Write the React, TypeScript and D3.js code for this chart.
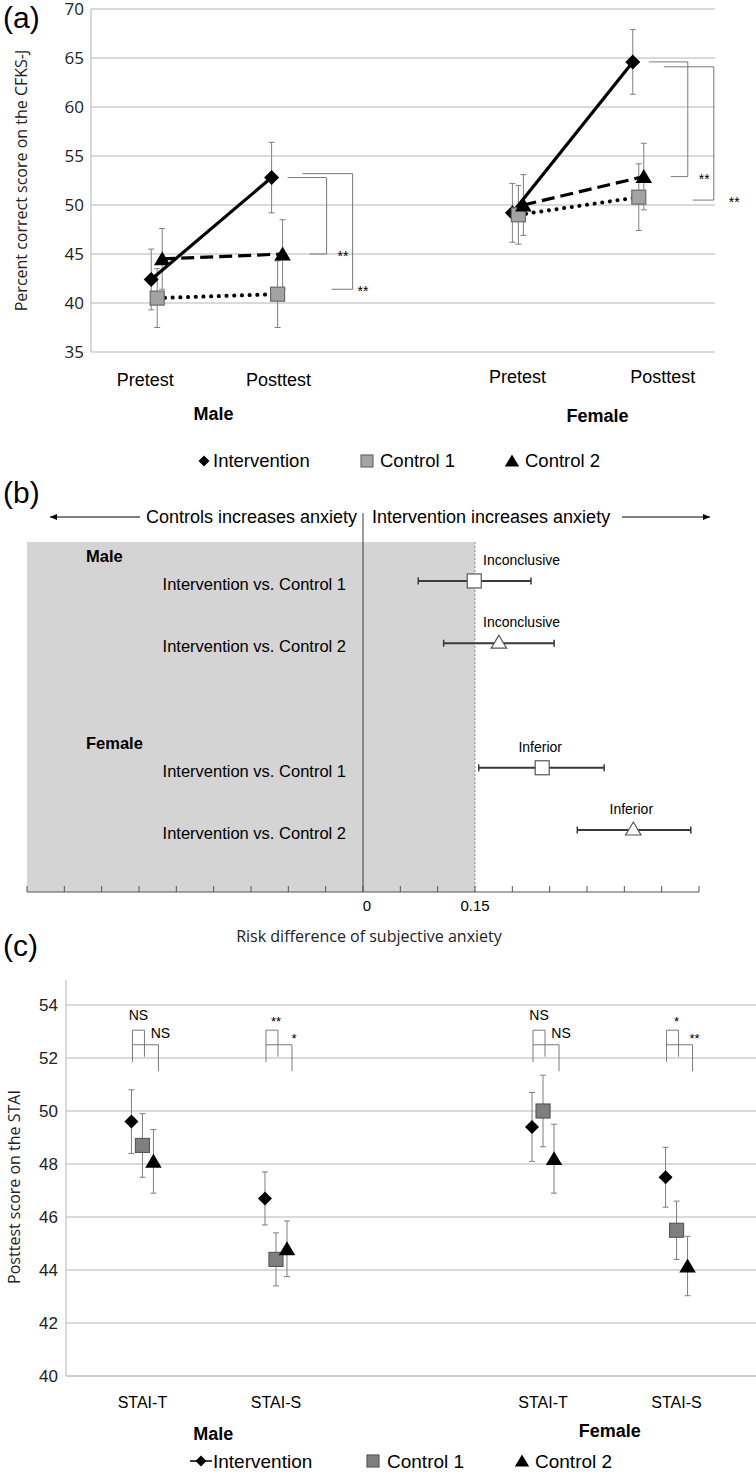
import { useEffect, useRef } from 'react';
import * as d3 from 'd3';

const W = 756;
const H = 1478;
const SANS = "'Liberation Sans', Arial, sans-serif";
const OPEN = "'Open Sans', 'DejaVu Sans', sans-serif";
const GRID = '#b5b5b5';
const ERR = '#7f7f7f';

// ---------- panel (a): percent correct on the CFKS-J ----------
const sexes = ['Male', 'Female'];
const phases = ['Pretest', 'Posttest'];
const seriesNames = ['Intervention', 'Control 1', 'Control 2'];
// order: male pre, male post, female pre, female post
const cfksIntervention = [42.4, 52.8, 49.2, 64.6];
const cfksControl1 = [40.5, 40.9, 49.0, 50.8];
const cfksControl2 = [44.5, 45.0, 50.0, 52.9];
const cfksInterventionErr = [3.1, 3.6, 3.0, 3.3];
const cfksControl1Err = [3.0, 3.4, 3.0, 3.4];
const cfksControl2Err = [3.1, 3.5, 3.1, 3.4];
const cfksTicks = [35, 40, 45, 50, 55, 60, 65, 70];
// significance brackets (posttest): [intervention vs control 2, intervention vs control 1]
const cfksBracketTop = [[52.8, 53.2], [64.6, 64.1]];
const cfksBracketBottom = [[45.0, 41.4], [52.9, 50.5]];
const cfksBracketLabel = ['**', '**'];

// ---------- panel (b): risk difference of subjective anxiety ----------
const rdGroups = ['Male', 'Male', 'Female', 'Female'];
const rdComparisons = [
  'Intervention  vs. Control 1',
  'Intervention  vs. Control 2',
  'Intervention  vs. Control 1',
  'Intervention  vs. Control 2',
];
const rdEstimate = [0.149, 0.182, 0.24, 0.362];
const rdLower = [0.074, 0.108, 0.155, 0.287];
const rdUpper = [0.225, 0.256, 0.323, 0.439];
const rdVerdict = ['Inconclusive', 'Inconclusive', 'Inferior', 'Inferior'];
const rdMarker = ['square', 'triangle', 'square', 'triangle'];
const rdMargin = 0.15;
const rdTickLabels = [0, 0.15];

// ---------- panel (c): posttest score on the STAI ----------
const staiScales = ['STAI-T', 'STAI-S'];
// order: male T, male S, female T, female S
const staiIntervention = [49.6, 46.7, 49.4, 47.5];
const staiControl1 = [48.7, 44.4, 50.0, 45.5];
const staiControl2 = [48.1, 44.8, 48.2, 44.15];
const staiInterventionErr = [1.2, 1.0, 1.3, 1.13];
const staiControl1Err = [1.2, 1.0, 1.35, 1.1];
const staiControl2Err = [1.2, 1.05, 1.3, 1.12];
const staiTicks = [40, 42, 44, 46, 48, 50, 52, 54];
const staiSig1 = ['NS', '**', 'NS', '*']; // intervention vs control 1
const staiSig2 = ['NS', '*', 'NS', '**']; // intervention vs control 2

type G = d3.Selection<SVGGElement, unknown, null, undefined>;

// draw one marker shape centred on x,y
function marker(g: G, kind: string, x: number, y: number, r: number, fill: string, stroke = 'none') {
  if (kind === 'diamond') {
    g.append('path')
      .attr('d', `M${x},${y - r}L${x + r},${y}L${x},${y + r}L${x - r},${y}Z`)
      .attr('fill', fill).attr('stroke', stroke);
  } else if (kind === 'square') {
    g.append('rect')
      .attr('x', x - r).attr('y', y - r).attr('width', 2 * r).attr('height', 2 * r)
      .attr('fill', fill).attr('stroke', stroke).attr('stroke-width', 1.2);
  } else {
    g.append('path')
      .attr('d', `M${x},${y - r}L${x + r * 1.1},${y + r * 0.85}L${x - r * 1.1},${y + r * 0.85}Z`)
      .attr('fill', fill).attr('stroke', stroke).attr('stroke-width', 1.2);
  }
}

function errorBar(g: G, x: number, y0: number, y1: number) {
  g.append('line').attr('x1', x).attr('x2', x).attr('y1', y0).attr('y2', y1)
    .attr('stroke', ERR).attr('stroke-width', 1);
  [y0, y1].forEach(y => g.append('line').attr('x1', x - 3).attr('x2', x + 3).attr('y1', y).attr('y2', y)
    .attr('stroke', ERR).attr('stroke-width', 1));
}

function text(g: G, str: string, x: number, y: number, size: number, opts: any = {}) {
  const t = g.append('text').attr('x', x).attr('y', y).text(str)
    .attr('font-family', opts.family || SANS).attr('font-size', size)
    .attr('fill', opts.fill || '#000')
    .attr('text-anchor', opts.anchor || 'start');
  if (opts.bold) t.attr('font-weight', 'bold');
  if (opts.rotate) t.attr('transform', `rotate(-90,${x},${y})`);
  return t;
}

const App = () => {
  const svgRef = useRef<SVGSVGElement>(null);

  useEffect(() => {
    document.body.style.margin = '0';
    const svg = d3.select(svgRef.current);
    svg.selectAll('*').remove();
    const root = svg.append('g') as unknown as G;

    // =================== (a) ===================
    const a = root.append('g') as G;
    text(a, '(a)', 3, 28, 30, { family: SANS });
    const yA = d3.scaleLinear().domain([35, 70]).range([352, 9]);
    const catA = ['Male|Pretest', 'Male|Posttest', 'gap', 'Female|Pretest', 'Female|Posttest'];
    const xA = d3.scalePoint().domain(catA).range([91, 705]).padding(0.55);
    const aLeft = 91, aRight = 715;

    cfksTicks.forEach(t => {
      a.append('line').attr('x1', aLeft).attr('x2', aRight).attr('y1', yA(t)).attr('y2', yA(t))
        .attr('stroke', GRID).attr('stroke-width', 1);
      text(a, String(t), 84, yA(t) + 6, 17, { family: OPEN, anchor: 'end', fill: '#222' });
    });
    a.append('line').attr('x1', aLeft).attr('x2', aLeft).attr('y1', yA(70)).attr('y2', yA(35))
      .attr('stroke', GRID);
    text(a, 'Percent correct score on the CFKS-J', 27, yA(52.5), 16, { family: OPEN, anchor: 'middle', rotate: true, fill: '#222' });

    const aSeries = [
      { name: seriesNames[0], v: cfksIntervention, e: cfksInterventionErr, dx: -6, kind: 'diamond' },
      { name: seriesNames[1], v: cfksControl1, e: cfksControl1Err, dx: 0, kind: 'square' },
      { name: seriesNames[2], v: cfksControl2, e: cfksControl2Err, dx: 5, kind: 'triangle' },
    ];
    const aCats = sexes.flatMap(s => phases.map(p => `${s}|${p}`));
    const px = (ci: number, dx: number) => (xA(aCats[ci]) as number) + dx;

    // error bars
    aSeries.forEach(s => s.v.forEach((v, i) => errorBar(a, px(i, s.dx), yA(v + s.e[i]), yA(v - s.e[i]))));

    // pre -> post lines
    const lineA = d3.line<number>().x(d => d[0]).y(d => d[1]);
    sexes.forEach((_, si) => {
      aSeries.forEach((s, k) => {
        const pts: any = [0, 1].map(j => [px(si * 2 + j, s.dx), yA(s.v[si * 2 + j])]);
        const p = a.append('path').attr('d', lineA(pts)).attr('fill', 'none').attr('stroke', '#000');
        if (k === 0) p.attr('stroke-width', 3.2);
        if (k === 1) p.attr('stroke-width', 4).attr('stroke-linecap', 'round').attr('stroke-dasharray', '0.1 7.6');
        if (k === 2) p.attr('stroke-width', 3.2).attr('stroke-dasharray', '13 6');
      });
    });

    aSeries.forEach(s => s.v.forEach((v, i) => {
      if (s.kind === 'diamond') marker(a, 'diamond', px(i, s.dx), yA(v), 7.5, '#000');
      if (s.kind === 'square') marker(a, 'square', px(i, s.dx), yA(v), 7, '#a3a3a3', '#6b6b6b');
      if (s.kind === 'triangle') marker(a, 'triangle', px(i, s.dx), yA(v), 7.5, '#000');
    }));

    // significance brackets
    sexes.forEach((sex, si) => {
      const p = xA(`${sex}|Posttest`) as number;
      const spans = [[10, 49, 32, 60], [25, 75, 54, 80]];
      spans.forEach(([x0, x1, xb, xl], bi) => {
        const yt = yA(cfksBracketTop[si][bi]);
        const yb = yA(cfksBracketBottom[si][bi]);
        a.append('path').attr('d', `M${p + x0},${yt}H${p + x1}V${yb}H${p + xb}`)
          .attr('fill', 'none').attr('stroke', '#7a7a7a').attr('stroke-width', 1);
        text(a, cfksBracketLabel[bi], p + xl + (si === 1 && bi === 1 ? 10 : 0), yb + 7, 14);
      });
    });

    // category & group labels (the original places a few of them off-centre)
    const aLabelShift = [-12, 1, -1, 24];
    aCats.forEach((c, i) => text(a, c.split('|')[1], (xA(c) as number) + aLabelShift[i], i < 2 ? 386 : 383, 18, { anchor: 'middle' }));
    sexes.forEach((s, si) => {
      const mid = ((xA(aCats[si * 2]) as number) + (xA(aCats[si * 2 + 1]) as number)) / 2;
      text(a, s, mid + (si === 0 ? -4 : 19), si === 0 ? 420 : 422, 18, { anchor: 'middle', bold: true });
    });

    // legend
    marker(a, 'diamond', 204, 461, 5.5, '#000');
    text(a, seriesNames[0], 213, 467, 18.5);
    marker(a, 'square', 367, 461, 6, '#a3a3a3', '#6b6b6b');
    text(a, seriesNames[1], 380, 467, 18.5);
    marker(a, 'triangle', 512, 461, 6.5, '#000');
    text(a, seriesNames[2], 525, 467, 18.5);

    // =================== (b) ===================
    const b = root.append('g') as G;
    text(b, '(b)', 3, 503, 30);
    const xB = d3.scaleLinear().domain([-0.45, 0.45]).range([27, 699]);
    const bTop = 542, bBottom = 892;
    const yB = d3.scalePoint().domain(['r0', 'r1', 'gap', 'r2', 'r3']).range([bTop, bBottom]).padding(0.81).align(0.386);
    const rowKeys = ['r0', 'r1', 'r2', 'r3'];

    b.append('rect').attr('x', xB(-0.45)).attr('y', bTop).attr('width', xB(rdMargin) - xB(-0.45))
      .attr('height', bBottom - bTop).attr('fill', '#d4d4d4');
    b.append('line').attr('x1', xB(rdMargin)).attr('x2', xB(rdMargin)).attr('y1', bTop).attr('y2', bBottom)
      .attr('stroke', '#8c8c8c').attr('stroke-dasharray', '2 2');
    b.append('line').attr('x1', xB(0)).attr('x2', xB(0)).attr('y1', 513).attr('y2', bBottom)
      .attr('stroke', '#3a3a3a').attr('stroke-width', 1);

    // axis
    b.append('line').attr('x1', xB(-0.45)).attr('x2', xB(0.45)).attr('y1', bBottom).attr('y2', bBottom)
      .attr('stroke', '#555').attr('stroke-width', 1.2);
    d3.range(-9, 10).forEach(k => {
      const x = xB(k * 0.05);
      b.append('line').attr('x1', x).attr('x2', x).attr('y1', bBottom).attr('y2', bBottom - 6)
        .attr('stroke', '#555').attr('stroke-width', 1);
    });
    rdTickLabels.forEach(t => text(b, String(t), xB(t) + (t === 0 ? 4 : 0), 911, 15, { anchor: 'middle' }));
    text(b, 'Risk difference of subjective anxiety', 369, 942, 16, { family: OPEN, anchor: 'middle', fill: '#222' });

    // header with arrows
    const arrow = (x0: number, x1: number, y: number) => {
      b.append('line').attr('x1', x0).attr('x2', x1).attr('y1', y).attr('y2', y).attr('stroke', '#000').attr('stroke-width', 1);
      const dir = Math.sign(x1 - x0);
      b.append('path').attr('d', `M${x1},${y}L${x1 - dir * 7},${y - 3}L${x1 - dir * 7},${y + 3}Z`).attr('fill', '#000');
    };
    arrow(140, 50, 517);
    arrow(622, 710, 517);
    text(b, 'Controls increases anxiety', 357, 523, 18, { anchor: 'end' });
    text(b, 'Intervention increases anxiety', 372, 523, 18);

    rowKeys.forEach((k, i) => {
      const y = yB(k) as number;
      if (i === 0 || rdGroups[i] !== rdGroups[i - 1]) text(b, rdGroups[i], 86, y - 19, 16.5, { bold: true });
      text(b, rdComparisons[i], 346, y + 9, 16.5, { anchor: 'end' });
      b.append('line').attr('x1', xB(rdLower[i])).attr('x2', xB(rdUpper[i])).attr('y1', y).attr('y2', y)
        .attr('stroke', '#3a3a3a').attr('stroke-width', 2);
      [rdLower[i], rdUpper[i]].forEach(v => b.append('line').attr('x1', xB(v)).attr('x2', xB(v))
        .attr('y1', y - 3.5).attr('y2', y + 3.5).attr('stroke', '#3a3a3a').attr('stroke-width', 1.5));
      if (rdMarker[i] === 'square') marker(b, 'square', xB(rdEstimate[i]), y, 7, '#fff', '#555');
      else marker(b, 'triangle', xB(rdEstimate[i]), y - 1, 7, '#fff', '#555');
      if (rdVerdict[i] === 'Inconclusive') text(b, rdVerdict[i], xB(rdMargin) + 8, y - 16, 14);
      else text(b, rdVerdict[i], xB(rdEstimate[i]) - 2, y - 16, 14, { anchor: 'middle' });
    });

    // =================== (c) ===================
    const c = root.append('g') as G;
    text(c, '(c)', 3, 956, 30);
    const yC = d3.scaleLinear().domain([40, 54]).range([1376, 1005]);
    const catC = ['Male|STAI-T', 'Male|STAI-S', 'gap', 'Female|STAI-T', 'Female|STAI-S'];
    const xC = d3.scalePoint().domain(catC).range([69, 750]).padding(0.55);
    const cLeft = 66;

    staiTicks.forEach(t => {
      c.append('line').attr('x1', cLeft).attr('x2', W).attr('y1', yC(t)).attr('y2', yC(t))
        .attr('stroke', t === 40 ? '#999' : GRID).attr('stroke-width', 1);
      text(c, String(t), 58, yC(t) + 6, 17, { anchor: 'end', fill: '#222' });
    });
    c.append('line').attr('x1', cLeft).attr('x2', cLeft).attr('y1', yC(54.95)).attr('y2', yC(40)).attr('stroke', GRID);
    text(c, 'Posttest score on the  STAI', 20, 1187, 16, { family: OPEN, anchor: 'middle', rotate: true, fill: '#222' });

    const cCats = sexes.flatMap(s => staiScales.map(p => `${s}|${p}`));
    const cSeries = [
      { v: staiIntervention, e: staiInterventionErr, dx: -11 },
      { v: staiControl1, e: staiControl1Err, dx: 0 },
      { v: staiControl2, e: staiControl2Err, dx: 11 },
    ];
    const cx = (ci: number, dx: number) => (xC(cCats[ci]) as number) + dx;
    cSeries.forEach(s => s.v.forEach((v, i) => errorBar(c, cx(i, s.dx), yC(v + s.e[i]), yC(v - s.e[i]))));
    cSeries.forEach((s, k) => s.v.forEach((v, i) => {
      if (k === 0) marker(c, 'diamond', cx(i, s.dx), yC(v), 7, '#000');
      if (k === 1) marker(c, 'square', cx(i, s.dx), yC(v), 7, '#7f7f7f', '#5a5a5a');
      if (k === 2) marker(c, 'triangle', cx(i, s.dx), yC(v), 7.5, '#000');
    }));

    // significance brackets
    cCats.forEach((_, i) => {
      const xi = cx(i, -10), x1 = cx(i, 2), x2 = cx(i, 16);
      c.append('path').attr('d', `M${xi},${yC(51.85)}V${yC(53.05)}H${x1}V${yC(52.05)}`)
        .attr('fill', 'none').attr('stroke', '#7a7a7a').attr('stroke-width', 1);
      c.append('path').attr('d', `M${xi},${yC(52.5)}H${x2}V${yC(51.5)}`)
        .attr('fill', 'none').attr('stroke', '#7a7a7a').attr('stroke-width', 1);
      const s1 = staiSig1[i], s2 = staiSig2[i];
      text(c, s1, (xi + x1) / 2 + (s1 === 'NS' ? 0 : 4), yC(53.05) - (s1 === 'NS' ? 10 : 4), s1 === 'NS' ? 14 : 13, { anchor: 'middle' });
      text(c, s2, x2 + 2, yC(52.5) - (s2 === 'NS' ? 7 : 2), s2 === 'NS' ? 14 : 13, { anchor: 'middle' });
    });

    cCats.forEach(k => text(c, k.split('|')[1], xC(k) as number, 1408, 16, { anchor: 'middle' }));
    sexes.forEach((s, si) => {
      const mid = ((xC(cCats[si * 2]) as number) + (xC(cCats[si * 2 + 1]) as number)) / 2;
      text(c, s, mid + (si === 0 ? 4 : 0), si === 0 ? 1440 : 1437, 18, { anchor: 'middle', bold: true });
    });

    // legend
    c.append('line').attr('x1', 190).attr('x2', 212).attr('y1', 1461).attr('y2', 1461).attr('stroke', '#000').attr('stroke-width', 1.5);
    marker(c, 'diamond', 201, 1461, 5.5, '#000');
    text(c, seriesNames[0], 213, 1468, 19);
    marker(c, 'square', 373, 1461, 6, '#7f7f7f', '#5a5a5a');
    text(c, seriesNames[1], 387, 1468, 19);
    marker(c, 'triangle', 522, 1461, 6.5, '#000');
    text(c, seriesNames[2], 535, 1468, 19);
  }, []);

  return (
    <svg ref={svgRef} width={W} height={H} viewBox={`0 0 ${W} ${H}`}
      style={{ position: 'absolute', left: 0, top: 0, background: '#fff' }} />
  );
};

export default App;
